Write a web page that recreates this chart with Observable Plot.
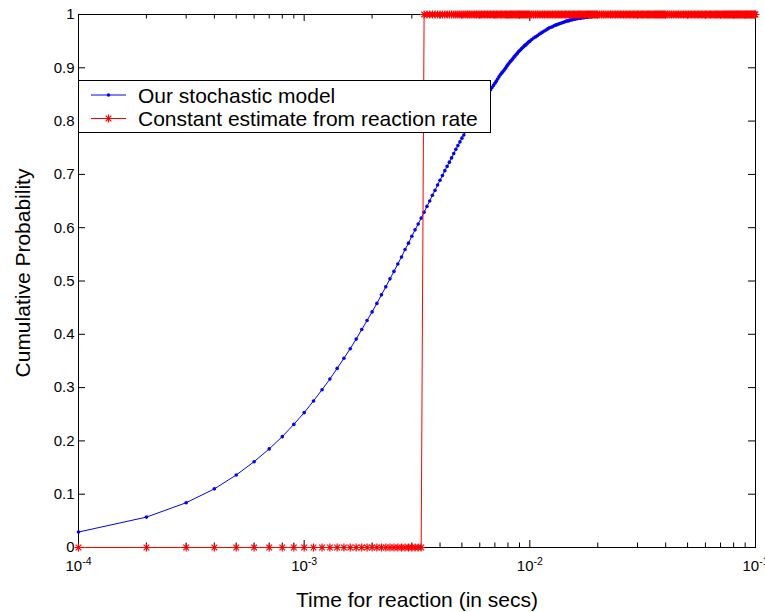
<!DOCTYPE html>
<html>
<head>
<meta charset="utf-8">
<script src="https://cdn.jsdelivr.net/npm/d3@7"></script>
<script src="https://cdn.jsdelivr.net/npm/@observablehq/plot@0.6"></script>
<style>
  html, body { margin: 0; padding: 0; background: #fff; }
  #chart { width: 765px; height: 612px; overflow: hidden; }
</style>
</head>
<body>
<div id="chart"></div>
<script>
// ---------------- data ----------------
// time values are given in units of 1e-4 s
const timeUnit = 1e-4;

// "Our stochastic model" (blue, dot markers)
const blueK = [1,2,3,4,5,6,7,8,9,10,11,12,13,14,15,16,17,18,19,20,
  21,22,23,24,25,26,27,28,29,30,31,32,33,34,35,36,37,38,39,40,
  41,42,43,44,45,46,47,48,49,50,51,52,53,54,55,56,57,58,59,60,
  61,62,63,64,65,66,67,68,69,70,71,72,73,74,75,76,77,78,79,80,
  81,82,83,84,85,86,87,88,89,90,91,92,93,94,95,96,97,98,99,100,
  102,104,106,108,110,112,114,116,118,120,122,124,126,128,130,132,134,136,138,140,
  142,144,146,148,150,152,154,156,158,160,162,164,166,168,170,172,174,176,178,180,
  182,184,186,188,190,192,194,196,198,200,220,250,300,400,500,700,1000];
const blueY = [0.029,0.057,0.084,0.110,0.136,0.161,0.185,0.208,0.231,0.253,
  0.275,0.296,0.316,0.336,0.355,0.373,0.391,0.409,0.426,0.442,
  0.458,0.474,0.489,0.504,0.518,0.532,0.545,0.559,0.571,0.584,
  0.596,0.607,0.618,0.629,0.640,0.650,0.661,0.670,0.680,0.689,
  0.698,0.707,0.715,0.723,0.731,0.739,0.747,0.754,0.761,0.768,
  0.774,0.781,0.787,0.793,0.799,0.805,0.811,0.816,0.821,0.827,
  0.832,0.836,0.841,0.846,0.850,0.854,0.859,0.863,0.867,0.871,
  0.875,0.879,0.883,0.887,0.890,0.893,0.896,0.899,0.903,0.906,
  0.909,0.912,0.914,0.917,0.920,0.922,0.925,0.927,0.930,0.932,
  0.934,0.936,0.938,0.940,0.942,0.943,0.945,0.947,0.949,0.950,
  0.953,0.956,0.958,0.960,0.963,0.965,0.967,0.969,0.971,0.973,
  0.975,0.976,0.977,0.979,0.980,0.981,0.982,0.983,0.984,0.985,
  0.986,0.987,0.988,0.988,0.989,0.990,0.990,0.991,0.991,0.992,
  0.992,0.993,0.993,0.993,0.994,0.994,0.994,0.995,0.995,0.995,
  0.996,0.996,0.996,0.996,0.997,0.997,0.997,0.997,0.998,0.998,
  0.998,0.999,1,1,1,1,1];

// "Constant estimate from reaction rate" (red, asterisk markers)
const redZeroK = [1,2,3,4,5,6,7,8,9,10,11,12,13,14,15,16,17,18,19,20,
  21,22,23,24,25,26,27,28,29,30,31,32,33];
const redOneK = [34,35,36,37,38,39,40,41,42,43,44,45,46,47,48,49,50,51,52,53,54,55,56,57,58,59,60,
  61,62,63,64,65,66,67,68,69,70,71,72,73,74,75,76,77,78,79,80,81,82,83,84,85,86,87,88,89,90,
  91,92,93,94,95,96,97,98,99,100,
  102,104,106,108,110,112,114,116,118,120,122,124,126,128,130,132,134,136,138,140,
  142,144,146,148,150,152,154,156,158,160,162,164,166,168,170,172,174,176,178,180,
  182,184,186,188,190,192,194,196,198,200,
  204,208,212,216,220,224,228,232,236,240,244,248,252,256,260,264,268,272,276,280,
  284,288,292,296,300,304,308,312,316,320,324,328,332,336,340,344,348,352,356,360,
  364,368,372,376,380,384,388,392,396,400,
  408,416,424,432,440,448,456,464,472,480,488,496,504,512,520,528,536,544,552,560,
  568,576,584,592,600,608,616,624,632,640,648,656,664,672,680,688,696,704,712,720,
  728,736,744,752,760,768,776,784,792,800,808,816,824,832,840,848,856,864,872,880,
  888,896,904,912,920,928,936,944,952,960,968,976,984,992,1000];

// ticks
const xMajorTicks = [1e-4, 1e-3, 1e-2, 1e-1];
const xMinorTicks = [2e-4,3e-4,4e-4,5e-4,6e-4,7e-4,8e-4,9e-4,
  2e-3,3e-3,4e-3,5e-3,6e-3,7e-3,8e-3,9e-3,
  2e-2,3e-2,4e-2,5e-2,6e-2,7e-2,8e-2,9e-2];
const yTicks = [0,0.1,0.2,0.3,0.4,0.5,0.6,0.7,0.8,0.9,1];

const xLabel = "Time for reaction (in secs)";
const yLabel = "Cumulative Probability";
const seriesNames = ["Our stochastic model", "Constant estimate from reaction rate"];
const seriesColors = ["#0000ff", "#ff0000"];

// ---------------- build ----------------
const blue = blueK.map((k, i) => ({x: k * timeUnit, y: blueY[i]}));
const red = redZeroK.map(k => ({x: k * timeUnit, y: 0}))
  .concat(redOneK.map(k => ({x: k * timeUnit, y: 1})));

const W = 765, H = 612;
const mL = 78, mR = 10, mT = 14, mB = 65;
const fw = W - mL - mR, fh = H - mT - mB;
const major = 7, minor = 4.5;
const FONT = "'Liberation Sans', Arial, Helvetica, sans-serif";

const asterisk = {
  draw(ctx, size) {
    const h = Math.sqrt(size / Math.PI);
    const d = h * Math.SQRT1_2;
    ctx.moveTo(-h, 0); ctx.lineTo(h, 0);
    ctx.moveTo(0, -h); ctx.lineTo(0, h);
    ctx.moveTo(-d, -d); ctx.lineTo(d, d);
    ctx.moveTo(-d, d); ctx.lineTo(d, -d);
  }
};

const svg = Plot.plot({
  width: W, height: H,
  marginLeft: mL, marginRight: mR, marginTop: mT, marginBottom: mB,
  style: {fontFamily: FONT, fontSize: "15px", background: "white", color: "black", overflow: "visible"},
  x: {type: "log", domain: [1e-4, 1e-1], axis: null},
  y: {domain: [0, 1], axis: null},
  marks: [
    Plot.frame({stroke: "black", strokeWidth: 1}),
    // inward ticks: bottom / top
    Plot.tickX(xMajorTicks, {x: d => d, insetTop: fh - major, stroke: "black"}),
    Plot.tickX(xMinorTicks, {x: d => d, insetTop: fh - minor, stroke: "black"}),
    Plot.tickX(xMajorTicks, {x: d => d, insetBottom: fh - major, stroke: "black"}),
    Plot.tickX(xMinorTicks, {x: d => d, insetBottom: fh - minor, stroke: "black"}),
    // inward ticks: left / right
    Plot.tickY(yTicks, {y: d => d, insetRight: fw - major, stroke: "black"}),
    Plot.tickY(yTicks, {y: d => d, insetLeft: fw - major, stroke: "black"}),
    // tick labels
    Plot.axisX(xMajorTicks, {anchor: "bottom", tickSize: 0, tickPadding: 13, fontSize: 15, label: null,
      tickFormat: d => "10^" + Math.round(Math.log10(d))}),
    Plot.axisY(yTicks, {anchor: "left", tickSize: 0, tickPadding: 4, fontSize: 15, label: null,
      tickFormat: d => String(d)}),
    // axis titles
    Plot.text([xLabel], {text: d => d, frameAnchor: "bottom", textAnchor: "middle", lineAnchor: "middle",
      dy: 53, fontSize: 21}),
    Plot.text([yLabel], {text: d => d, frameAnchor: "left", textAnchor: "middle", lineAnchor: "middle",
      rotate: -90, dx: -55, dy: -8, fontSize: 21}),
    // series
    Plot.line(blue, {x: "x", y: "y", stroke: seriesColors[0], strokeWidth: 1}),
    Plot.dot(blue, {x: "x", y: "y", r: 1.8, fill: seriesColors[0], stroke: "none"}),
    Plot.line(red, {x: "x", y: "y", stroke: seriesColors[1], strokeWidth: 1}),
    Plot.dot(red, {x: "x", y: "y", r: 4, symbol: asterisk, fill: "none", stroke: seriesColors[1], strokeWidth: 1.2})
  ]
});

// tick label font size and superscript exponents
const root = d3.select(svg);
root.selectAll('g[aria-label="x-axis tick label"], g[aria-label="y-axis tick label"]')
  .attr("font-size", 15).style("font-size", "15px")
  .selectAll("text").attr("font-size", 15).style("font-size", "15px");
root.selectAll('g[aria-label="x-axis tick label"] text').each(function() {
  const s = this.textContent;
  const parts = s.split("^");
  if (parts.length === 2) {
    this.textContent = "";
    const t = d3.select(this);
    t.append("tspan").text(parts[0]);
    t.append("tspan").attr("dy", -6).style("font-size", "10.5px").text(parts[1]);
  }
});

// legend box (inside the plot, upper left)
const lg = root.append("g").attr("font-family", FONT)
  .style("font-size", "21px").attr("text-anchor", "start");
lg.append("rect").attr("x", mL + 0.5).attr("y", 80.5).attr("width", 412).attr("height", 52)
  .attr("fill", "white").attr("stroke", "black").attr("stroke-width", 1);
const rows = [95, 118.5];
rows.forEach((ry, i) => {
  lg.append("line").attr("x1", 91).attr("x2", 126).attr("y1", ry).attr("y2", ry)
    .attr("stroke", seriesColors[i]).attr("stroke-width", 1);
  if (i === 0) {
    lg.append("circle").attr("cx", 108.5).attr("cy", ry).attr("r", 1.8).attr("fill", seriesColors[0]);
  } else {
    const p = d3.path(); asterisk.draw(p, Math.PI * 4 * 4);
    lg.append("path").attr("d", p.toString()).attr("transform", `translate(108.5,${ry})`)
      .attr("fill", "none").attr("stroke", seriesColors[1]).attr("stroke-width", 1.2);
  }
  lg.append("text").attr("x", 138).attr("y", ry + 7.8).attr("fill", "black")
    .attr("text-anchor", "start").text(seriesNames[i]);
});

document.getElementById("chart").appendChild(svg);
</script>
</body>
</html>
